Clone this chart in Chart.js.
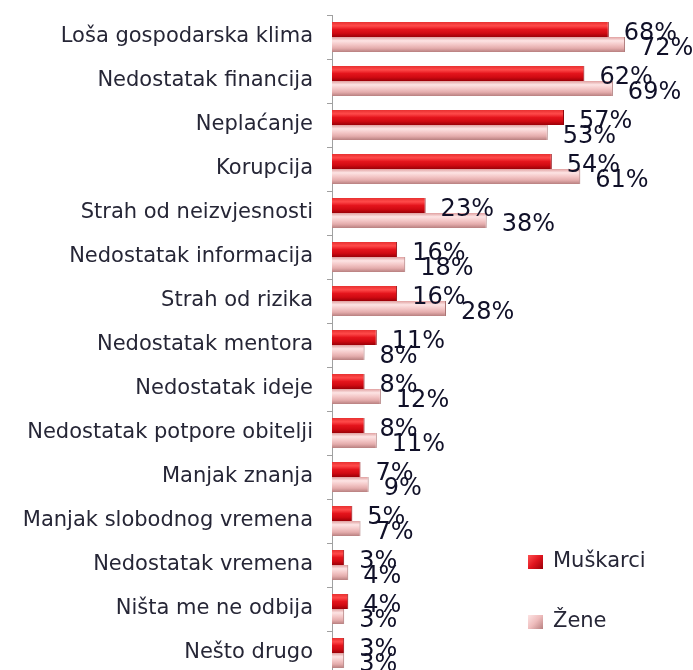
<!DOCTYPE html>
<html>
<head>
<meta charset="utf-8">
<script src="https://cdn.jsdelivr.net/npm/chart.js@4/dist/chart.umd.min.js"></script>
<style>
  html, body { margin: 0; padding: 0; background: #fff; overflow: hidden; }
  canvas { display: block; }
</style>
</head>
<body>
<canvas id="chart" width="693" height="680"></canvas>
<script>
const categories = [
    'Loša gospodarska klima',
    'Nedostatak financija',
    'Neplaćanje',
    'Korupcija',
    'Strah od neizvjesnosti',
    'Nedostatak informacija',
    'Strah od rizika',
    'Nedostatak mentora',
    'Nedostatak ideje',
    'Nedostatak potpore obitelji',
    'Manjak znanja',
    'Manjak slobodnog vremena',
    'Nedostatak vremena',
    'Ništa me ne odbija',
    'Nešto drugo'
];
const muskarci = [68, 62, 57, 54, 23, 16, 16, 11, 8, 8, 7, 5, 3, 4, 3];
const zene = [72, 69, 53, 61, 38, 18, 28, 8, 12, 11, 9, 7, 4, 3, 3];

const CAT_PCT = 0.68;

// vertical gradient for each bar, worked out from the y scale
function barFill(stops, half) {
    return function (c) {
        const chart = c.chart;
        const y = chart.scales.y;
        if (!y || !chart.chartArea || c.dataIndex === undefined) return stops[2];
        const centre = y.getPixelForValue(c.dataIndex);
        const band = (y.bottom - y.top) / categories.length;
        const t = band * CAT_PCT / 2;
        const top = half === 0 ? centre - t : centre;
        const g = chart.ctx.createLinearGradient(0, top, 0, top + t);
        stops.forEach((s, k) => g.addColorStop(k / (stops.length - 1), s));
        return g;
    };
}

const redStops = ['#e83030', '#ff4a4a', '#e4141c', '#d00a12', '#9a0008'];
const pinkStops = ['#e0a0a0', '#fde4e4', '#f4c8c8', '#e4acac', '#b88080'];

const valueLabels = {
    id: 'valueLabels',
    afterDatasetsDraw(chart) {
        const ctx = chart.ctx;
        ctx.save();
        ctx.font = '24px "DejaVu Sans"';
        ctx.fillStyle = '#101028';
        ctx.textAlign = 'left';
        ctx.textBaseline = 'middle';
        chart.data.datasets.forEach((ds, i) => {
            const meta = chart.getDatasetMeta(i);
            meta.data.forEach((bar, j) => {
                ctx.fillText(ds.data[j] + '%', bar.x + 15, bar.y + 4);
            });
        });
        ctx.restore();
    }
};

const sideLegend = {
    id: 'sideLegend',
    afterDraw(chart) {
        const ctx = chart.ctx;
        const rows = [562, 622];
        ctx.save();
        ctx.font = '21px "DejaVu Sans"';
        ctx.textBaseline = 'middle';
        ctx.textAlign = 'left';
        chart.data.datasets.forEach((ds, i) => {
            const y = rows[i];
            const stops = i === 0 ? ['#ff5050', '#e0141e', '#9a0008'] : ['#fde4e4', '#eebcbc', '#b88080'];
            const g = ctx.createLinearGradient(528, y - 7, 543, y + 7);
            g.addColorStop(0, stops[0]);
            g.addColorStop(0.5, stops[1]);
            g.addColorStop(1, stops[2]);
            ctx.fillStyle = g;
            ctx.fillRect(528, y - 7, 15, 14);
            ctx.fillStyle = '#262636';
            ctx.fillText(ds.label, 553, y);
        });
        ctx.restore();
    }
};

new Chart(document.getElementById('chart'), {
    type: 'bar',
    data: {
        labels: categories,
        datasets: [
            {
                label: 'Muškarci',
                data: muskarci,
                backgroundColor: barFill(redStops, 0),
                borderColor: '#8a0008',
                borderWidth: { right: 1 },
                borderSkipped: 'start'
            },
            {
                label: 'Žene',
                data: zene,
                backgroundColor: barFill(pinkStops, 1),
                borderColor: '#a87070',
                borderWidth: { right: 1 },
                borderSkipped: 'start'
            }
        ]
    },
    options: {
        indexAxis: 'y',
        responsive: false,
        animation: false,
        datasets: {
            bar: { categoryPercentage: CAT_PCT, barPercentage: 1 }
        },
        layout: { padding: { top: 15, right: 15, bottom: 5, left: 0 } },
        plugins: {
            legend: { display: false },
            tooltip: { enabled: false }
        },
        scales: {
            x: { display: false, min: 0, max: 85 },
            y: {
                afterFit: s => {
                    s.width = 332;
                    s.paddingTop = 0;
                    s.paddingBottom = 0;
                },
                border: { color: '#a0a0a0' },
                grid: {
                    drawOnChartArea: false,
                    tickLength: 5,
                    color: '#a0a0a0',
                    offset: true
                },
                ticks: {
                    padding: 14,
                    color: '#262636',
                    font: { family: 'DejaVu Sans', size: 21 }
                }
            }
        }
    },
    plugins: [valueLabels, sideLegend]
});
</script>
</body>
</html>
